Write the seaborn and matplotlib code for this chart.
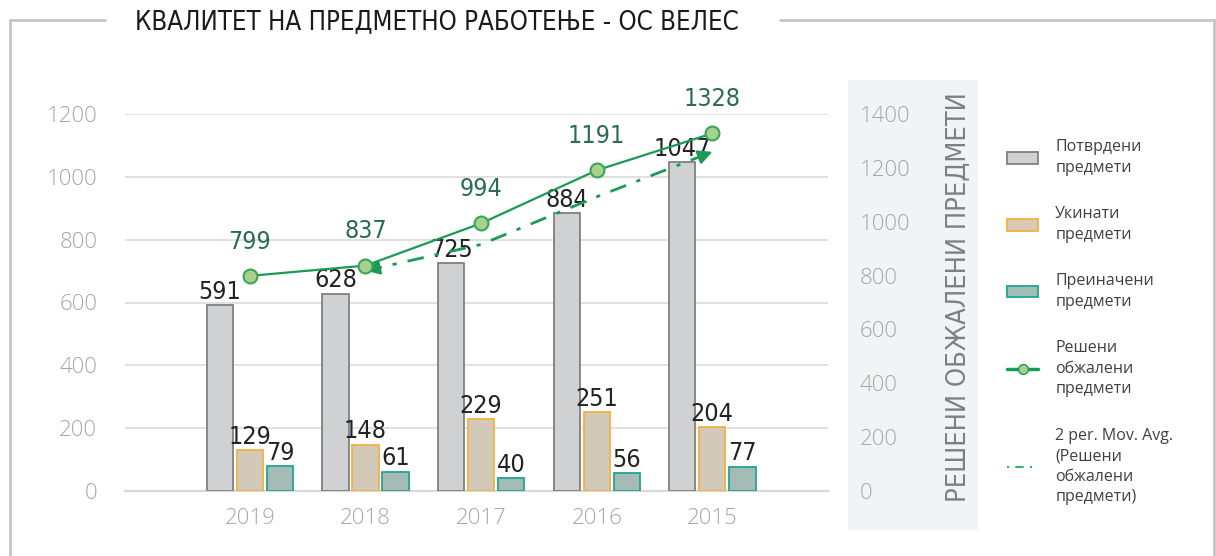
import numpy as np
import pandas as pd
import matplotlib
matplotlib.use("Agg")
import matplotlib.pyplot as plt
import seaborn as sns
from matplotlib.patches import Patch, Rectangle
from matplotlib.lines import Line2D

# ------------------------------
# податоци
# ------------------------------
years = ["2019", "2018", "2017", "2016", "2015"]
potvrdeni = [591, 628, 725, 884, 1047]
ukinati = [129, 148, 229, 251, 204]
preinaceni = [79, 61, 40, 56, 77]
resheni = [799, 837, 994, 1191, 1328]

series_names = ["Потврдени\nпредмети", "Укинати\nпредмети", "Преиначени\nпредмети"]
line_name = "Решени\nобжалени\nпредмети"
ma_name = "2 per. Mov. Avg.\n(Решени\nобжалени\nпредмети)"

bar_fill = ["#d0d1d3", "#d8cab4", "#a0c0b6"]
bar_edge = ["#808080", "#f4b041", "#1fa595"]
green = "#1a9a55"
num_font = dict(family="DejaVu Sans", fontstretch="condensed")
light_font = ["Open Sans", "DejaVu Sans"]

df = pd.DataFrame({
    "year": years * 3,
    "value": potvrdeni + ukinati + preinaceni,
    "series": [s for s in series_names for _ in years],
})

sns.set_theme(style="white")
plt.rcParams["font.family"] = light_font

fig = plt.figure(figsize=(12.16, 5.56), dpi=100)

# сива позадина за десната оска
fig.add_artist(Rectangle((848 / 1216, 1 - 530 / 556), 130 / 1216, 450 / 556,
                         transform=fig.transFigure, facecolor="#f2f3f5",
                         edgecolor="none", zorder=-5))

ax = fig.add_axes([125 / 1216, 1 - 491 / 556, 703 / 1216, 377 / 556])
ax.set_facecolor("none")

sns.barplot(data=df, x="year", y="value", hue="series", order=years,
            hue_order=series_names, palette=bar_fill, width=0.78, gap=0.13,
            ax=ax, legend=False, zorder=3)

for i, cont in enumerate(ax.containers):
    for bar in cont:
        bar.set_edgecolor(bar_edge[i])
        bar.set_linewidth(1.3)
    ax.bar_label(cont, padding=1, fontsize=18, color="#222222", **num_font)

ax.set_ylim(0, 1200)
ax.set_xlim(-1.08, 5.0)
ax.set_yticks(range(0, 1201, 200))
ax.grid(axis="y", color="#dcdcdc", linewidth=1.2, zorder=0)
ax.set_axisbelow(True)
for s in ["top", "right", "left"]:
    ax.spines[s].set_visible(False)
ax.spines["bottom"].set_color("#d9d9d9")
ax.spines["bottom"].set_linewidth(1.6)
ax.tick_params(axis="both", length=0, labelsize=16, colors="#a6a6a6")
ax.tick_params(axis="y", pad=20)
ax.tick_params(axis="x", pad=12)
ax.set_xlabel("")
ax.set_ylabel("")
for lbl in ax.get_xticklabels() + ax.get_yticklabels():
    lbl.set_fontweight("light")

# ------------------------------
# втора оска: решени предмети
# ------------------------------
ax2 = ax.twinx()
ax2.set_ylim(0, 1400)
xs = np.arange(len(years))
sns.lineplot(x=xs, y=resheni, ax=ax2, color=green, linewidth=1.6,
             marker="o", markersize=10, markerfacecolor="#a9d18e",
             markeredgecolor="#3aa655", markeredgewidth=1.5, zorder=5)
for x, v in zip(xs, resheni):
    ax2.annotate(str(v), (x, v), xytext=(0, 16), textcoords="offset points",
                 ha="center", va="bottom", fontsize=18, color="#2a6b58",
                 annotation_clip=False, **num_font)

ma = pd.Series(resheni).rolling(2).mean()
ma_x = xs[1:]
ma_y = ma.values[1:]
ax2.plot(ma_x, ma_y, color=green, linestyle=(0, (6, 4, 1.5, 4)), linewidth=2, zorder=4)
# стрелки на краевите
for a, b in [(0, 1), (-1, -2)]:
    x0, y0 = ma_x[a], ma_y[a]
    x1, y1 = ma_x[b], ma_y[b]
    ax2.annotate("", xy=(x0, y0), xytext=(x0 + 0.12 * (x1 - x0), y0 + 0.12 * (y1 - y0)),
                 arrowprops=dict(arrowstyle="-|>", color=green, lw=1.5,
                                 mutation_scale=22, shrinkA=0, shrinkB=0))

for s in ax2.spines.values():
    s.set_visible(False)
ax2.set_yticks(range(0, 1401, 200))
ax2.tick_params(axis="y", length=0, labelsize=16, colors="#a6a6a6", pad=23)
for lbl in ax2.get_yticklabels():
    lbl.set_fontweight("light")
ax2.set_ylabel("РЕШЕНИ ОБЖАЛЕНИ ПРЕДМЕТИ", fontsize=19.5, color="#7f7f7f",
               rotation=90, **num_font)
ax2.yaxis.set_label_coords(1.166, 0.515)
ax2.grid(False)

# ------------------------------
# легенда
# ------------------------------
handles = [Patch(facecolor=bar_fill[i], edgecolor=bar_edge[i], linewidth=1.3) for i in range(3)]
handles.append(Line2D([], [], color=green, linewidth=2.5, marker="o", markersize=7,
                      markerfacecolor="#a9d18e", markeredgecolor=green))
handles.append(Line2D([], [], color="#2bb566", linewidth=1.5, linestyle=(0, (1, 3, 4, 3))))
leg = fig.legend(handles, series_names + [line_name, ma_name], loc="upper left",
                 bbox_to_anchor=(993 / 1216, 1 - 125 / 556), frameon=False,
                 fontsize=11.5, labelcolor="#404040", handlelength=1.9, handleheight=0.7,
                 handletextpad=1.1, labelspacing=1.9)
for t in leg.get_texts():
    t.set_linespacing(1.38)

# ------------------------------
# рамка и наслов
# ------------------------------
frame_c = "#c6c6c6"
y_top = 1 - 20 / 556
fig.add_artist(Line2D([10 / 1216, 10 / 1216], [y_top, 0], color=frame_c, lw=2))
fig.add_artist(Line2D([10 / 1216, 105 / 1216], [y_top, y_top], color=frame_c, lw=2))
fig.add_artist(Line2D([780 / 1216, 1], [y_top, y_top], color=frame_c, lw=2))
fig.add_artist(Line2D([1214 / 1216, 1214 / 1216], [y_top, 0], color=frame_c, lw=2))
fig.text(437 / 1216, 1 - 22 / 556, "КВАЛИТЕТ НА ПРЕДМЕТНО РАБОТЕЊЕ - ОС ВЕЛЕС",
         ha="center", va="center", fontsize=18.5, color="#1a1a1a", **num_font)

fig.savefig("out.png", dpi=100)
